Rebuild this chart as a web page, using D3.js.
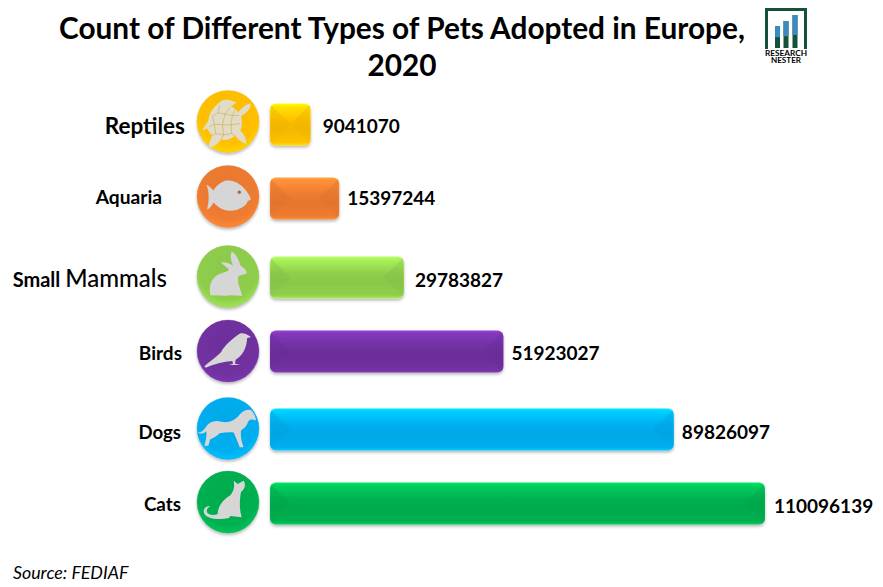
<!DOCTYPE html>
<html>
<head>
<meta charset="utf-8">
<script src="https://cdn.jsdelivr.net/npm/d3@7"></script>
<style>
html,body{margin:0;padding:0;background:#fff;}
svg{display:block;}
text{font-family:Lato,"Open Sans",sans-serif;fill:#000;}
</style>
</head>
<body>
<div id="chart"></div>
<script>
// ---- data ----
const categories = ["Reptiles","Aquaria","Small Mammals","Birds","Dogs","Cats"];
const adopted = [9041070,15397244,29783827,51923027,89826097,110096139];
const titleLines = ["Count of Different Types of Pets Adopted in Europe,","2020"];
const sourceNote = "Source: FEDIAF";

// ---- layout & style ----
const W = 883, H = 587;
const barColors = ["#FFC000","#EE7B30","#8FCE4C","#7030A0","#00AEEF","#00B050"];
const rowCenters = [124.5,198.5,277.5,351.5,429.5,503.5];
const iconCenters = [121.5,196.5,276.5,351,428.5,502];
const valueGaps = [12,8,11,8,8,9];
const valueLift = [1.5,0,2.5,1.5,2.5,2.5];
const labelEnds = [185,162,167,182,181,181];
const labelSizes = [22.5,19.2,24,19,18.6,18.8];
const labelLift = [2,-1.5,2.5,1,2,.5];
const barH = 42, iconR = 31, iconX = 228;

// silhouettes, drawn at 3x about (113,110)
const glyphs = {
 "Reptiles":"M84 56 C92 42 116 40 138 54 C130 60 126 62 122 64 C130 68 138 74 144 82 C152 72 164 58 180 56 C184 66 172 84 152 94 C156 108 156 124 150 138 C160 146 168 160 168 176 C154 174 142 164 134 152 C122 164 106 168 92 164 C86 174 74 184 60 188 C52 186 58 168 66 152 C60 146 54 138 50 130 C46 134 42 136 36 134 C44 122 50 116 54 106 C56 88 68 66 84 56Z",
 "Aquaria":"M48 74 C56 78 64 86 70 92 C76 78 92 66 108 62 C126 60 144 68 156 80 C168 92 178 106 182 118 L172 124 C170 138 140 156 112 152 C94 150 80 140 70 128 C64 138 58 146 50 150 C56 126 58 98 48 74Z",
 "Small Mammals":"M60 166 C54 136 64 108 94 100 C104 96 114 94 116 88 C108 82 100 76 92 68 C104 66 118 70 128 78 C122 62 118 46 124 36 C136 40 146 60 150 76 C160 82 168 90 170 100 C160 106 150 104 144 110 C140 126 148 142 152 156 L156 168 L120 166 L108 168 Z",
 "Birds":"M42 156 C58 142 76 130 92 114 C100 96 124 74 148 58 C158 54 170 60 182 68 L170 72 C170 96 160 122 136 136 L134 148 L150 152 L116 152 L128 148 L126 140 C100 142 70 150 46 160Z",
 "Dogs":"M46 106 C56 90 74 84 94 90 C116 94 134 86 148 68 C158 56 174 50 184 56 C190 64 198 76 196 86 C186 82 180 82 174 88 C170 100 164 108 152 116 C150 132 154 152 160 166 L148 166 C142 150 136 136 130 122 C116 120 102 122 88 124 C80 132 70 138 60 142 L54 162 L42 162 C46 148 50 130 48 118 C42 124 30 128 22 122 C32 122 40 116 46 106Z",
 "Cats":"M130 46 L142 56 L160 46 C166 56 166 70 152 80 C148 102 146 128 154 156 L120 152 L116 158 C100 162 84 162 70 160 C54 158 40 150 40 138 C40 128 48 122 60 122 C50 128 46 136 52 144 C60 150 72 150 82 146 C82 122 100 102 120 90 C130 78 134 64 130 46Z"
};
const shellLines = "M88 62 L84 84 L66 94 M84 84 L104 88 L118 68 M104 88 L126 92 L134 76 M126 92 L146 92 M66 94 L72 118 L56 126 M72 118 L96 120 L104 88 M96 120 L122 120 L126 92 M122 120 L150 116 M72 118 L76 146 L66 152 M96 120 L100 150 L92 164 M122 120 L124 146 L134 152 M76 146 L100 150 L124 146";

const x = d3.scaleLinear().domain([0,d3.max(adopted)]).range([270,765]);
const y = d3.scaleOrdinal().domain(categories).range(rowCenters);
const yIcon = d3.scaleOrdinal().domain(categories).range(iconCenters);
const color = d3.scaleOrdinal().domain(categories).range(barColors);

const rows = categories.map((c,i)=>({name:c,value:adopted[i],i}));
const svg = d3.select("#chart").append("svg").attr("width",W).attr("height",H).attr("viewBox",[0,0,W,H]);
const defs = svg.append("defs");

const shadow = defs.append("filter").attr("id","soft").attr("x","-10%").attr("y","-20%").attr("width","120%").attr("height","140%");
shadow.append("feDropShadow").attr("dx",0).attr("dy",2).attr("stdDeviation",1.6).attr("flood-color","#000").attr("flood-opacity",.28);

rows.forEach(d=>{
  const c = d3.color(color(d.name));
  const light = c.brighter(.45), lighter = c.brighter(.8), dark = c.darker(.1);
  const g = defs.append("linearGradient").attr("id","bar"+d.i).attr("x1",0).attr("y1",0).attr("x2",0).attr("y2",1);
  [[0,lighter],[.08,light],[.4,c],[.62,dark],[.92,c],[1,light]].forEach(s=>g.append("stop").attr("offset",s[0]).attr("stop-color",s[1]));
  const r = defs.append("radialGradient").attr("id","disc"+d.i).attr("cx",.5).attr("cy",.38).attr("r",.68);
  [[0,c.darker(.08)],[.72,c],[.92,c.brighter(.3)],[1,c.brighter(.7)]].forEach(s=>r.append("stop").attr("offset",s[0]).attr("stop-color",s[1]));
  const fade = defs.append("linearGradient").attr("id","side"+d.i).attr("x1",0).attr("y1",0).attr("x2",0).attr("y2",1);
  fade.append("stop").attr("offset",0).attr("stop-color",c.darker(.6)).attr("stop-opacity",.26);
  fade.append("stop").attr("offset",1).attr("stop-color",c.darker(.6)).attr("stop-opacity",.04);
});

// title
const title = svg.append("text").attr("text-anchor","middle").attr("font-size",29.8).attr("font-weight",700);
title.selectAll("tspan").data(titleLines).join("tspan").attr("x",402).attr("y",(d,i)=>39+i*37).text(d=>d);

// bars
const bevel = d=>{const w=x(d.value)-x(0),t=Math.min(barH/2,w/2);return `M1 2 L${t} ${t} L${t} ${barH-t} L1 ${barH-2}Z`;};
const bars = svg.append("g").selectAll("g").data(rows).join("g")
  .attr("transform",d=>`translate(${x(0)},${y(d.name)-barH/2})`);
bars.append("rect").attr("width",d=>x(d.value)-x(0)).attr("height",barH).attr("rx",6)
  .attr("fill",d=>`url(#bar${d.i})`).attr("filter","url(#soft)");
bars.append("path").attr("fill",d=>`url(#side${d.i})`).attr("d",bevel);
bars.append("path").attr("fill",d=>`url(#side${d.i})`)
  .attr("transform",d=>`translate(${x(d.value)-x(0)},0) scale(-1,1)`).attr("d",bevel);

// icons
const icons = svg.append("g").selectAll("g").data(rows).join("g")
  .attr("transform",d=>`translate(${iconX},${yIcon(d.name)})`);
icons.append("circle").attr("r",iconR).attr("fill",d=>`url(#disc${d.i})`).attr("filter","url(#soft)")
  .attr("stroke",d=>d3.color(color(d.name)).darker(.3)).attr("stroke-opacity",.35).attr("stroke-width",.8);
const gl = icons.append("g").attr("transform","scale(.3333) translate(-113,-110)");
gl.append("path").attr("d",d=>glyphs[d.name]).attr("fill",d=>d.name==="Reptiles"?"#e2dcc4":"#d6d6d6");
gl.filter(d=>d.name==="Reptiles").append("path").attr("d",shellLines).attr("fill","none").attr("stroke","#c9a23a").attr("stroke-opacity",.75).attr("stroke-width",2);
gl.filter(d=>d.name==="Aquaria").append("circle").attr("cx",147).attr("cy",97).attr("r",5).attr("fill","#a8623a");

// value labels
svg.append("g").selectAll("text").data(rows).join("text")
  .attr("x",d=>x(d.value)+valueGaps[d.i]).attr("y",d=>y(d.name)+6.5+valueLift[d.i])
  .attr("font-size",19).attr("font-weight",700).text(d=>d.value);

// category labels
const labels = svg.append("g").selectAll("text").data(rows).join("text")
  .attr("text-anchor","end").attr("x",d=>labelEnds[d.i]).attr("y",d=>y(d.name)+7+labelLift[d.i])
  .attr("font-size",d=>labelSizes[d.i]).attr("font-weight",700);
labels.each(function(d){
  const t=d3.select(this), parts=d.name.split(" ");
  if(parts.length===2){
    t.append("tspan").attr("font-size",20).text(parts[0]+" ");
    t.append("tspan").attr("font-weight",500).text(parts[1]);
  } else t.text(d.name);
});

// source
svg.append("text").attr("x",13).attr("y",579).attr("font-size",17.8).attr("font-style","italic").attr("fill","#222").text(sourceNote);

// logo
const logo = svg.append("g").attr("transform","translate(765,8)");
logo.append("path").attr("fill","#14533a").attr("fill-rule","evenodd").attr("d","M0 0H42V41H39V3H3V41H0Z");
[[10,18],[18.5,13],[27.5,7]].forEach(b=>{
  logo.append("rect").attr("x",b[0]).attr("y",b[1]).attr("width",5).attr("height",40-b[1]).attr("fill","#14533a");
  logo.append("rect").attr("x",b[0]).attr("y",b[1]).attr("width",5).attr("height",Math.max(8,(32-b[1])*.8)).attr("fill","#3b8bc0");
});
logo.append("text").attr("x",0).attr("y",47.5).attr("textLength",42).attr("lengthAdjust","spacingAndGlyphs").attr("font-size",6.5).attr("font-weight",700).attr("fill","#3c4a44").text("RESEARCH");
logo.append("text").attr("x",6).attr("y",54.5).attr("textLength",30).attr("lengthAdjust","spacingAndGlyphs").attr("font-size",6.5).attr("font-weight",700).attr("fill","#3c4a44").text("NESTER");
</script>
</body>
</html>
